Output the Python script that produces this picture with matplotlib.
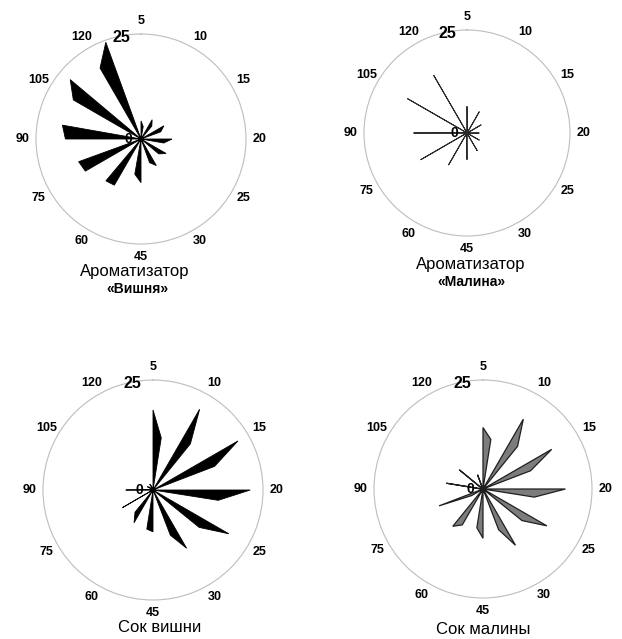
import numpy as np
import matplotlib
matplotlib.use("Agg")
import matplotlib.pyplot as plt

plt.rcParams['font.family'] = ['Liberation Sans', 'DejaVu Sans']

W, H = 622, 639

times = ["5", "10", "15", "20", "25", "30", "45", "60", "75", "90", "105", "120"]

# sensor value at the time direction (a) and at the neighbouring sub-axis (b)
aroma_cherry_a = [4.3, 5.3, 6.3, 7.4, 6.9, 7.3, 10.4, 12.7, 15.3, 18.0, 18.6, 19.5]
aroma_cherry_b = [3.0, 4.0, 5.0, 5.5, 5.5, 6.0, 8.5, 13.0, 15.8, 19.0, 22.0, 24.5]

aroma_rasp_a = [6.5, 6.0, 4.0, 3.0, 3.5, 5.0, 6.5, 9.0, 13.0, 13.0, 16.7, 16.2]
aroma_rasp_b = [1.0, 1.0, 1.0, 1.0, 1.0, 1.0, 1.0, 1.0, 1.0, 0.5, 1.0, 1.0]

juice_cherry_a = [18.2, 21.2, 22.3, 22.1, 19.9, 15.3, 9.5, 8.6, 8.0, 6.2, 1.5, 1.5]
juice_cherry_b = [12.0, 13.5, 15.0, 15.0, 13.5, 11.0, 9.0, 6.5, 0.3, 0.3, 1.0, 1.0]

juice_rasp_a = [14.1, 18.5, 18.2, 18.9, 16.9, 14.9, 11.3, 9.5, 3.0, 0.5, 0.5, 0.5]
juice_rasp_b = [11.5, 12.6, 11.7, 11.9, 11.5, 10.0, 9.0, 11.0, 10.8, 8.5, 7.0, 3.5]

captions = [("Ароматизатор", "«Вишня»"), ("Ароматизатор", "«Малина»"),
            ("Сок вишни", None), ("Сок малины", None)]

r_max = 25

charts = [
    dict(a=aroma_cherry_a, b=aroma_cherry_b, cx=141, cy=139, r=105, delta=10,
         face="black", edge="black", lw=0.6, cap=(135, 272), cap2=(137, 289)),
    dict(a=aroma_rasp_a, b=aroma_rasp_b, cx=467, cy=133, r=103, delta=2,
         face="#2a2a2a", edge="#2a2a2a", lw=0.7, cap=(471, 265), cap2=(471, 282)),
    dict(a=juice_cherry_a, b=juice_cherry_b, cx=153, cy=490, r=110, delta=9,
         face="black", edge="black", lw=0.6, cap=(160, 628), cap2=None),
    dict(a=juice_rasp_a, b=juice_rasp_b, cx=483, cy=489, r=109, delta=9,
         face="#7c7c7c", edge="#202020", lw=0.9, cap=(483, 629), cap2=None),
]

fig = plt.figure(figsize=(W / 100, H / 100), dpi=100)
fig.patch.set_facecolor("white")

base = np.deg2rad(np.arange(12) * 30.0)

for ch, (cap1, cap2) in zip(charts, captions):
    cx, cy, r = ch["cx"], ch["cy"], ch["r"]
    ax = fig.add_axes([(cx - r) / W, (H - cy - r) / H, 2 * r / W, 2 * r / H],
                      projection="polar")
    ax.set_theta_zero_location("N")
    ax.set_theta_direction(-1)
    ax.set_ylim(0, r_max)
    ax.set_yticks([])
    ax.grid(False)
    ax.set_xticks(base)
    ax.set_xticklabels(times, fontsize=9, fontweight="bold")
    ax.tick_params(axis="x", pad=2.5, length=0)
    ax.spines["polar"].set_color("#bdbdbd")
    ax.spines["polar"].set_linewidth(0.8)
    ax.set_facecolor("white")

    d = np.deg2rad(ch["delta"])
    th, rr = [], []
    for t, va, vb in zip(base, ch["a"], ch["b"]):
        th += [t, t, t + d, t + d]
        rr += [0, va, vb, 0]
    ax.fill(th, rr, facecolor=ch["face"], edgecolor=ch["edge"],
            linewidth=ch["lw"], zorder=3)

    ax.text(np.deg2rad(349), r_max - 0.3, "25", fontsize=11.5, fontweight="bold",
            ha="center", va="center", zorder=5)
    ax.text(np.deg2rad(270), 3.0, "0", fontsize=10, fontweight="bold",
            ha="center", va="center", zorder=5)

    fig.text(ch["cap"][0] / W, 1 - ch["cap"][1] / H, cap1, fontsize=12,
             ha="center", va="center")
    if cap2:
        fig.text(ch["cap2"][0] / W, 1 - ch["cap2"][1] / H, cap2, fontsize=10,
                 fontweight="bold", ha="center", va="center")

fig.savefig("out.png", dpi=100, facecolor="white")
